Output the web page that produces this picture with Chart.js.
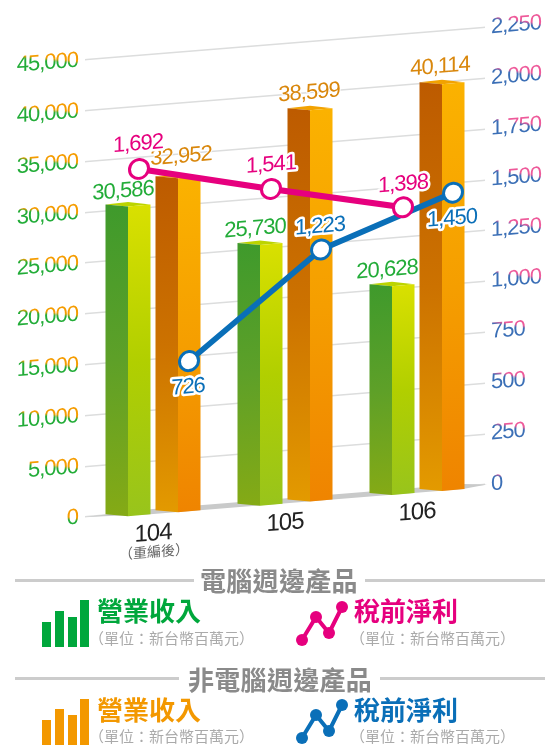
<!DOCTYPE html>
<html lang="zh-Hant">
<head>
<meta charset="utf-8">
<title>營業收入與稅前淨利</title>
<script src="https://cdn.jsdelivr.net/npm/chart.js@4"></script>
<style>
  html, body { margin: 0; padding: 0; background: #fff; }
  #wrap { position: relative; width: 547px; height: 746px; overflow: hidden; }
  #wrap canvas { position: absolute; left: 0; top: 0; }
  .rule { position: absolute; height: 3px; background: #ccc; }
  .head, .name, .unit { position: absolute; white-space: nowrap; font-family: "Noto Sans CJK TC", sans-serif; line-height: 1; }
  .head { font-size: 26px; font-weight: 700; color: #8a8a8a; letter-spacing: .3px; }
  .name { font-size: 26px; font-weight: 700; }
  .unit { font-size: 15px; color: #aaa; }
  svg.icon { position: absolute; left: 0; top: 0; }
</style>
</head>
<body>
<div id="wrap">
  <canvas id="mainChart" width="547" height="746"></canvas>

  <div class="rule" style="left:15px;width:179px;top:579px"></div>
  <div class="rule" style="left:365px;width:180px;top:579px"></div>
  <div class="head" style="left:200px;top:567px">電腦週邊產品</div>
  <div class="name" style="left:97px;top:597px;color:#00a73c">營業收入</div>
  <div class="unit" style="left:89px;top:630px">（單位：新台幣百萬元）</div>
  <div class="name" style="left:354px;top:597px;color:#e6007e">稅前淨利</div>
  <div class="unit" style="left:350px;top:630px">（單位：新台幣百萬元）</div>

  <div class="rule" style="left:15px;width:164px;top:677px"></div>
  <div class="rule" style="left:380px;width:165px;top:677px"></div>
  <div class="head" style="left:188px;top:666px">非電腦週邊產品</div>
  <div class="name" style="left:97px;top:696px;color:#f39800">營業收入</div>
  <div class="unit" style="left:89px;top:728px">（單位：新台幣百萬元）</div>
  <div class="name" style="left:354px;top:696px;color:#0a6fb8">稅前淨利</div>
  <div class="unit" style="left:350px;top:728px">（單位：新台幣百萬元）</div>

  <svg class="icon" width="547" height="746">
    <g fill="#00a73c">
      <rect x="42" y="622" width="9" height="25"/><rect x="55" y="611" width="9" height="36"/>
      <rect x="68" y="617" width="9" height="30"/><rect x="80" y="600" width="9" height="47"/>
    </g>
    <g fill="#f39800">
      <rect x="42" y="720" width="9" height="25"/><rect x="55" y="709" width="9" height="36"/>
      <rect x="68" y="715" width="9" height="30"/><rect x="80" y="699" width="9" height="46"/>
    </g>
    <g fill="#e6007e" stroke="#e6007e">
      <polyline fill="none" stroke-width="4" points="302,640 316,617 329,633 342,607"/>
      <circle cx="302" cy="640" r="6" stroke="none"/><circle cx="316" cy="617" r="6" stroke="none"/>
      <circle cx="329" cy="633" r="6" stroke="none"/><circle cx="342" cy="607" r="6" stroke="none"/>
    </g>
    <g fill="#0a6fb8" stroke="#0a6fb8">
      <polyline fill="none" stroke-width="4" points="302,738 316,715 329,731 342,705"/>
      <circle cx="302" cy="738" r="6" stroke="none"/><circle cx="316" cy="715" r="6" stroke="none"/>
      <circle cx="329" cy="731" r="6" stroke="none"/><circle cx="342" cy="705" r="6" stroke="none"/>
    </g>
  </svg>
</div>

<script>
const YEARS = ['104', '105', '106'];
const YEAR_NOTES = ['（重編後）', '', ''];

// 營業收入 (左軸)
const REVENUE_PC = [30586, 25730, 20628];
const REVENUE_NON_PC = [32952, 38599, 40114];

// 稅前淨利 (右軸)
const PROFIT_PC = [1692, 1541, 1398];
const PROFIT_NON_PC = [726, 1223, 1450];

const LEFT_MAX = 45000;
const LEFT_STEP = 5000;
const RIGHT_MAX = 2250;
const RIGHT_STEP = 250;

// 整張圖往右上傾斜
const SHEAR = 0.081;
const SHEAR_ORIGIN_X = 85;

const TEXT_FONT = '"Liberation Sans", Arial, sans-serif';
const TEXT_TIGHT = '-1px';
const GREEN_TEXT = '#22ac38';
const ORANGE_TEXT = '#d9870c';
const PINK = '#e6007e';
const BLUE = '#0a6fb8';

const BAR_FACES = {
    green: {
        left: ['#3f9a2c', '#5ea028', '#85aa15'],
        right: ['#d9e000', '#b1cf00', '#98c41c'],
        cap: '#bcd400'
    },
    orange: {
        left: ['#bd5b00', '#cc7200', '#e39a00'],
        right: ['#fbb200', '#f59e00', '#ef8400'],
        cap: '#f2a200'
    }
};

// 數字標籤相對位置 [dx, dy]
const LABEL_OFFSETS = {
    green: [[-5, -12], [-5, -13], [-5, -13]],
    orange: [[3, -18], [-1, -14], [-2, -14]],
    pink: [[-1, -25], [0, -24], [0, -23]],
    blue: [[-1, 26], [-1, -23], [-1, 26]]
};

function num(v) {
    return Number(v).toLocaleString('en-US');
}

function faceGradient(ctx, x0, y0, x1, y1, stops) {
    const g = ctx.createLinearGradient(x0, y0, x1, y1);
    g.addColorStop(0, stops[0]);
    g.addColorStop(0.5, stops[1]);
    g.addColorStop(1, stops[2]);
    return g;
}

function fillPoly(ctx, pts, fill) {
    ctx.beginPath();
    pts.forEach((p, i) => (i ? ctx.lineTo(p[0], p[1]) : ctx.moveTo(p[0], p[1])));
    ctx.closePath();
    ctx.fillStyle = fill;
    ctx.fill();
}

function drawBox(ctx, el, faces) {
    const cx = el.x;
    const half = el.width / 2;
    const top = el.y + 3.5;
    const bottom = el.base + 3.5;

    // 柱子本身不傾斜，只有位置跟著走
    ctx.save();
    ctx.transform(1, SHEAR, 0, 1, 0, -SHEAR * cx);

    fillPoly(ctx, [[cx - half, top - 2], [cx, top], [cx + half, top - 2], [cx, top - 4.5]], faces.cap);
    fillPoly(ctx, [[cx - half, top - 2], [cx, top], [cx, bottom], [cx - half, bottom - 2]],
        faceGradient(ctx, cx - half, top, cx, bottom, faces.left));
    fillPoly(ctx, [[cx, top], [cx + half, top - 2], [cx + half, bottom - 2], [cx, bottom]],
        faceGradient(ctx, cx, top, cx + half, bottom, faces.right));
    ctx.restore();
}

function drawValue(ctx, text, x, y, color, halo) {
    ctx.save();
    ctx.font = '22px ' + TEXT_FONT;
    ctx.textAlign = 'center';
    ctx.textBaseline = 'middle';
    ctx.lineJoin = 'round';
    ctx.strokeStyle = '#fff';
    ctx.lineWidth = halo;
    ctx.strokeText(text, x, y);
    ctx.fillStyle = color;
    ctx.fillText(text, x, y);
    ctx.restore();
}

// 刻度文字的雙色效果 (文字原點在刻度位置)
function twoTone(ctx, p0, p1, low, high) {
    const g = ctx.createLinearGradient(p0[0], p0[1], p1[0], p1[1]);
    g.addColorStop(0, low);
    g.addColorStop(1, high);
    return g;
}

const shearPlugin = {
    id: 'shear',
    beforeDraw(chart) {
        chart.ctx.save();
        chart.ctx.letterSpacing = TEXT_TIGHT;
        chart.ctx.transform(1, -SHEAR, 0, 1, 0, SHEAR * SHEAR_ORIGIN_X);
    },
    afterDraw(chart) {
        chart.ctx.restore();
    }
};

const floorPlugin = {
    id: 'floor',
    beforeDatasetsDraw(chart) {
        const { left, right } = chart.chartArea;
        const y = chart.scales.y.getPixelForValue(0);
        fillPoly(chart.ctx, [
            [left - 2, y], [left + 60, y - 2.5], [right - 20, y - 2.5],
            [right + 4, y], [right - 20, y + 2.5], [left + 60, y + 2.5]
        ], '#c9caca');
    }
};

const boxPlugin = {
    id: 'box',
    beforeDatasetDraw(chart, args) {
        const faces = chart.data.datasets[args.index].faces;
        if (!faces) return;
        args.meta.data.forEach(el => drawBox(chart.ctx, el, faces));
        return false;
    }
};

const pointShiftPlugin = {
    id: 'pointShift',
    afterDatasetsUpdate(chart) {
        chart.data.datasets.forEach((ds, i) => {
            if (!ds.shiftX) return;
            chart.getDatasetMeta(i).data.forEach(pt => { pt.x += ds.shiftX; });
        });
    }
};

const valueLabelPlugin = {
    id: 'valueLabels',
    afterDatasetsDraw(chart) {
        const ctx = chart.ctx;
        chart.data.datasets.forEach((ds, i) => {
            chart.getDatasetMeta(i).data.forEach((el, j) => {
                const off = ds.labelOffsets[j];
                drawValue(ctx, num(ds.data[j]), el.x + off[0], el.y + off[1], ds.labelColor, ds.labelHalo);
            });
        });

        // 104 下方的小字
        const xScale = chart.scales.x;
        ctx.save();
        ctx.letterSpacing = '0px';
        ctx.font = '14px "Noto Sans CJK TC", sans-serif';
        ctx.textAlign = 'center';
        ctx.textBaseline = 'middle';
        ctx.fillStyle = '#666';
        YEAR_NOTES.forEach((note, i) => {
            if (note) ctx.fillText(note, xScale.getPixelForTick(i) + 1, xScale.top + 40);
        });
        ctx.restore();
    }
};

const ctx = document.getElementById('mainChart').getContext('2d');
const gridColor = '#dcdddd';

new Chart(ctx, {
    type: 'bar',
    data: {
        labels: YEARS,
        datasets: [
            {
                label: '電腦週邊產品 營業收入',
                data: REVENUE_PC,
                yAxisID: 'y',
                order: 3,
                backgroundColor: '#00a73c',
                faces: BAR_FACES.green,
                labelOffsets: LABEL_OFFSETS.green,
                labelColor: GREEN_TEXT,
                labelHalo: 2,
                clip: false
            },
            {
                label: '非電腦週邊產品 營業收入',
                data: REVENUE_NON_PC,
                yAxisID: 'y',
                order: 3,
                backgroundColor: '#f39800',
                faces: BAR_FACES.orange,
                labelOffsets: LABEL_OFFSETS.orange,
                labelColor: ORANGE_TEXT,
                labelHalo: 2,
                clip: false
            },
            {
                type: 'line',
                label: '非電腦週邊產品 稅前淨利',
                data: PROFIT_NON_PC,
                yAxisID: 'y1',
                order: 2,
                borderColor: BLUE,
                borderWidth: 6,
                pointRadius: 9.5,
                pointBorderWidth: 3,
                pointBorderColor: BLUE,
                pointBackgroundColor: '#fff',
                tension: 0,
                shiftX: 36,
                labelOffsets: LABEL_OFFSETS.blue,
                labelColor: BLUE,
                labelHalo: 5,
                clip: false
            },
            {
                type: 'line',
                label: '電腦週邊產品 稅前淨利',
                data: PROFIT_PC,
                yAxisID: 'y1',
                order: 1,
                borderColor: PINK,
                borderWidth: 6,
                pointRadius: 9.5,
                pointBorderWidth: 3,
                pointBorderColor: PINK,
                pointBackgroundColor: '#fff',
                tension: 0,
                shiftX: -14,
                labelOffsets: LABEL_OFFSETS.pink,
                labelColor: PINK,
                labelHalo: 5,
                clip: false
            }
        ]
    },
    options: {
        responsive: false,
        animation: false,
        events: [],
        layout: { padding: { top: 60, bottom: 0, left: 0, right: 0 } },
        datasets: { bar: { barPercentage: 0.9, categoryPercentage: 100 / 132 } },
        plugins: { legend: { display: false }, tooltip: { enabled: false } },
        scales: {
            x: {
                grid: { display: false },
                border: { display: false },
                afterFit(scale) { scale.height = 229; },
                ticks: {
                    maxRotation: 0,
                    padding: 0,
                    color: '#222',
                    font: { family: TEXT_FONT, size: 24 }
                }
            },
            y: {
                position: 'left',
                min: 0,
                max: LEFT_MAX,
                afterFit(scale) { scale.width = 87; },
                border: { display: false },
                grid: { color: gridColor, lineWidth: 1.4, tickLength: 2 },
                ticks: {
                    stepSize: LEFT_STEP,
                    padding: 7,
                    callback: num,
                    font: { family: TEXT_FONT, size: 22 },
                    color: c => twoTone(c.chart.ctx, [-0.27, 3.5], [0.27, 0.5], GREEN_TEXT, '#f59c00')
                }
            },
            y1: {
                position: 'right',
                min: 0,
                max: RIGHT_MAX,
                afterFit(scale) { scale.width = 64; },
                border: { display: false },
                grid: { color: gridColor, lineWidth: 1.4, tickLength: 2, drawOnChartArea: false },
                ticks: {
                    stepSize: RIGHT_STEP,
                    padding: 6,
                    callback: num,
                    font: { family: TEXT_FONT, size: 22 },
                    color: c => twoTone(c.chart.ctx, [-0.36, -8.5], [0.36, -11.5], '#3b6fb6', '#ee5a9a')
                }
            }
        }
    },
    plugins: [shearPlugin, floorPlugin, boxPlugin, pointShiftPlugin, valueLabelPlugin]
});
</script>
</body>
</html>
